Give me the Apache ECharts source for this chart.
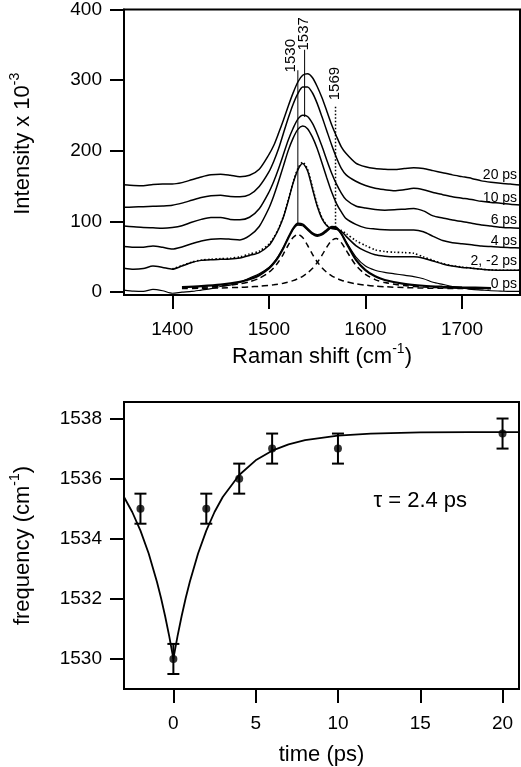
<!DOCTYPE html>
<html><head><meta charset="utf-8">
<script src="https://cdn.jsdelivr.net/npm/echarts@6/dist/echarts.min.js"></script>
<style>html,body{margin:0;padding:0;background:#fff}#c{width:521px;height:767px}</style>
</head><body><div id="c"></div>
<script>
// ---------- top panel: Raman spectra ----------
const wavenumber = [1350,1360,1370,1380,1390,1400,1410,1420,1430,1440,1450,1460,1470,1480,1490,1500,1505,1510,1515,1520,1525,1530,1535,1540,1545,1550,1555,1560,1565,1570,1575,1580,1590,1600,1610,1620,1630,1640,1650,1660,1670,1680,1690,1700,1710,1720,1730,1740,1750,1760];
const spec20ps = [152,151,150.5,152.5,153,153,155,159,163,166,167,165.5,163.5,165.5,174,194.7,207.5,224.8,243.3,263.2,281.7,297.4,306.9,309.1,303.8,291.1,275,256.1,237,220.6,205.6,196.2,182.7,177.4,174.9,174,173.5,175,176,175,172,169,166,163.5,161,157.5,155.5,154,153,151.5];
const spec10ps = [120,120.5,121,121.5,122,123,126,130,134,136.5,137,135.5,135,138,149.6,170.2,185,202.8,224.5,246.1,265.7,281,290.2,290.3,282.2,267.2,248.1,228.2,208.3,190.2,175.2,166,157,151,147,145,143.5,145,147,145,141,138,135,133,131,128.5,127,126,124.5,123.5];
const spec6ps = [93.5,92.5,91.5,91,90.5,91.5,94,99,103,105.5,105.5,103,102.5,106,118,141.4,156.6,174.7,194.8,215,231.6,244.8,250.4,248.6,239.1,224.3,206.4,186.7,168.3,152.8,140.2,130.8,122,119,117,116,116.5,117.5,118.5,115,108,105,102,100,97.5,95,93.5,92,91,90.5];
const spec4ps = [64.5,63.5,63.5,65.5,63.5,61,64,68.5,72.5,75,75.7,75,74,80,93,118.8,136.1,156.5,178.4,200.3,217.7,230.4,235,231.4,219.7,203.3,182.9,161.5,141.6,125.3,113.5,104,96,91,89.5,88.5,88,88,88,85.5,79,73,70,68.5,67,65.5,64.5,63.5,63,62.5];
const spec2ps = [34,32.5,33.5,37,35,32.5,37,42,45,46,46.5,47,48.5,52,56,66,76,89,106,129,154,173,182,172,147,122,104,94,90,89,86,79,66,58,53,51,50,50,50,48,44,40,37,35,34,32.5,31.5,31,31,31];
const specMinus2ps = [null,null,null,null,null,33,37.5,42.5,45.5,46.5,47.5,48,50,54,58,68,77,90,107,130,155,175,184,174,149,124,105,95,91,90,87.5,83,73,66,60,57.5,56.5,56,55,50,45,40.5,37.5,35.5,34,32.5,31.5,31,31,31];
const spec0ps = [3,1.5,1,4,2,-1.5,0,1,3,5,8,10,14,20,26,35,42,51,63,77,89,95,94,88,82,79,81,86,91,90,82,71,50,37,31,28,26,24,22,19,14,11,8,6,4,3,2,1.5,1,1];

const fitWavenumber = [1410,1430,1450,1470,1480,1490,1500,1505,1510,1515,1520,1525,1530,1535,1540,1545,1550,1555,1560,1565,1570,1575,1580,1590,1600,1610,1620,1640,1660,1680,1700,1730];
const fitSum0ps = [7.2,8.5,10.6,14.6,18.3,23.9,33.6,40.8,50.4,62.6,76.7,89.7,97.0,95.9,89.6,83.4,80.8,82.7,87.9,92.4,91.4,83.0,70.1,46.0,31.1,22.4,17.3,11.8,9.1,7.7,6.7,5.9];
const band1530 = [6.1,7.0,8.6,11.8,14.8,19.6,28.0,34.4,43.0,53.9,66.4,77.4,82.0,77.4,66.4,53.9,43.0,34.4,28.0,23.2,19.6,16.9,14.8,11.8,9.9,8.6,7.7,6.5,5.8,5.4,5.1,4.8];
const band1569 = [5.1,5.5,6.0,6.8,7.5,8.3,9.6,10.4,11.4,12.7,14.3,16.3,19.0,22.5,27.2,33.5,41.8,52.3,63.9,73.2,75.8,70.1,59.3,38.2,25.2,17.8,13.6,9.3,7.3,6.3,5.6,5.1];

const markPositions = [1530, 1537, 1569];
const markSpans = [[97, 314], [248, 343], [92, 265]];
const markTexts = ['1530', '1537', '1569'];
const traceTexts = ['20 ps', '10 ps', '6 ps', '4 ps', '2, -2 ps', '0 ps'];

const topXTicks = [1400, 1500, 1600, 1700];
const topYTicks = [0, 100, 200, 300, 400];

// ---------- bottom panel: frequency vs time ----------
const delayTime = [-2, 0, 2, 4, 6, 10, 20];
const peakFreq = [1535, 1530, 1535, 1536, 1537, 1537, 1537.5];
const freqErr = [0.5, 0.5, 0.5, 0.5, 0.5, 0.5, 0.5];
const fitTime = [-3,-2.5,-2,-1.5,-1,-0.75,-0.5,-0.25,0,0.25,0.5,0.75,1,1.5,2,2.5,3,4,5,6,7,8,10,12,15,18,21];
const fitFreq = [1535.39,1534.89,1534.27,1533.51,1532.57,1532.03,1531.42,1530.75,1530.0,1530.75,1531.42,1532.03,1532.57,1533.51,1534.27,1534.89,1535.39,1536.12,1536.61,1536.93,1537.14,1537.28,1537.43,1537.50,1537.54,1537.55,1537.55];
const tauText = 'τ = 2.4 ps';

const botXTicks = [0, 5, 10, 15, 20];
const botYTicks = [1530, 1532, 1534, 1536, 1538];

// ---------- chart ----------
const FONT = "'Liberation Sans', Arial, Helvetica, sans-serif";
const chart = echarts.init(document.getElementById('c'), null, {renderer: 'canvas'});
const pair = (xs, ys) => xs.map((x, i) => [x, ys[i]]);

function axisCommon(ticks, margin) {
  return {
    type: 'value',
    axisLine: {show: true, onZero: false, lineStyle: {color: '#000', width: 2}},
    axisTick: {show: true, inside: false, length: 14, customValues: ticks, lineStyle: {color: '#000', width: 2}},
    axisLabel: {customValues: ticks, color: '#000', fontSize: 19, fontFamily: FONT, margin: margin,
      formatter: function (v) { return String(v); }},
    splitLine: {show: false}
  };
}
const supRich = {sup: {fontSize: 14, lineHeight: 14, verticalAlign: 'top', fontFamily: FONT, color: '#000'}};
function nameStyle(extra) {
  return Object.assign({color: '#000', fontSize: 22, fontFamily: FONT, lineHeight: 30, rich: supRich}, extra || {});
}

const spectrumLine = (data, width, type) => ({
  type: 'line', xAxisIndex: 0, yAxisIndex: 0, data: data, showSymbol: false, symbol: 'none',
  smooth: 0.25, lineStyle: {color: '#000', width: width, type: type || 'solid'}, z: 3
});

const series = [];
[spec20ps, spec10ps, spec6ps, spec4ps, spec2ps].forEach(arr => series.push(spectrumLine(pair(wavenumber, arr), 1.5)));
series.push(spectrumLine(pair(wavenumber, specMinus2ps), 1.6, [1.5, 2.2]));
series.push(spectrumLine(pair(wavenumber, spec0ps), 1.2));
series.push(spectrumLine(pair(fitWavenumber, fitSum0ps), 2.2));
series.push(spectrumLine(pair(fitWavenumber, band1530), 1.5, [6, 4]));
series.push(spectrumLine(pair(fitWavenumber, band1569), 1.5, [6, 4]));
markPositions.forEach((w, i) => {
  series.push({
    type: 'line', xAxisIndex: 0, yAxisIndex: 0, showSymbol: false, symbol: 'none',
    data: [[w, markSpans[i][0]], [w, markSpans[i][1]]],
    lineStyle: {color: '#000', width: i === 2 ? 1.5 : 1, type: i === 2 ? [1.5, 2] : 'solid'}, z: 4
  });
});

// bottom
series.push({
  type: 'line', xAxisIndex: 1, yAxisIndex: 1, data: pair(fitTime, fitFreq), showSymbol: false, symbol: 'none',
  lineStyle: {color: '#000', width: 1.8}, z: 3
});
series.push({
  type: 'custom', xAxisIndex: 1, yAxisIndex: 1,
  data: delayTime.map((t, i) => [t, peakFreq[i] - freqErr[i], peakFreq[i] + freqErr[i]]),
  encode: {x: 0, y: [1, 2]},
  renderItem: function (params, api) {
    const lo = api.coord([api.value(0), api.value(1)]);
    const hi = api.coord([api.value(0), api.value(2)]);
    const hw = 6;
    const st = {stroke: '#000', lineWidth: 2};
    return {type: 'group', children: [
      {type: 'line', shape: {x1: lo[0], y1: lo[1], x2: hi[0], y2: hi[1]}, style: st},
      {type: 'line', shape: {x1: lo[0] - hw, y1: lo[1], x2: lo[0] + hw, y2: lo[1]}, style: st},
      {type: 'line', shape: {x1: hi[0] - hw, y1: hi[1], x2: hi[0] + hw, y2: hi[1]}, style: st}
    ]};
  }, z: 4
});
series.push({
  type: 'scatter', xAxisIndex: 1, yAxisIndex: 1, data: pair(delayTime, peakFreq),
  symbol: 'circle', symbolSize: 8, itemStyle: {color: '#000'}, z: 5
});

const option = {
  animation: false,
  backgroundColor: '#fff',
  grid: [
    {left: 122, top: 9, width: 398, height: 286, show: true, borderColor: '#000', borderWidth: 2, backgroundColor: 'transparent'},
    {left: 122, top: 402, width: 397, height: 287, show: true, borderColor: '#000', borderWidth: 2, backgroundColor: 'transparent'}
  ],
  xAxis: [
    Object.assign(axisCommon(topXTicks, 25), {gridIndex: 0, min: 1350, max: 1760,
      name: 'Raman shift (cm{sup|-1})', nameLocation: 'middle', nameGap: 47, nameTextStyle: nameStyle()}),
    Object.assign(axisCommon(botXTicks, 25), {gridIndex: 1, min: -3, max: 21,
      name: 'time (ps)', nameLocation: 'middle', nameGap: 55, nameTextStyle: nameStyle({lineHeight: 22})})
  ],
  yAxis: [
    Object.assign(axisCommon(topYTicks, 22), {gridIndex: 0, min: -4, max: 400,
      name: 'Intensity x 10{sup|-3}', nameLocation: 'middle', nameGap: 86, nameTextStyle: nameStyle({padding: [0, 0, 0, 17]})}),
    Object.assign(axisCommon(botYTicks, 22), {gridIndex: 1, min: 1529, max: 1538.55,
      name: 'frequency (cm{sup|-1})', nameLocation: 'middle', nameGap: 86, nameTextStyle: nameStyle()})
  ],
  series: series
};
chart.setOption(option);

// annotations anchored in data coordinates
const markAnchors = [[1523, 311], [1536.5, 342], [1568.5, 271.5]];
const traceAnchorY = [165.6, 133.5, 102, 72.5, 44, 11];
const traceAnchorX = 1757;
const tauAnchor = [15, 1535.27];

const graphics = [];
markTexts.forEach((t, i) => {
  const p = chart.convertToPixel({gridIndex: 0}, markAnchors[i]);
  graphics.push({type: 'text', x: p[0], y: p[1], rotation: Math.PI / 2, z: 10,
    style: {text: t, fill: '#000', fontSize: 15, fontFamily: FONT, align: 'left', verticalAlign: 'middle'}});
});
traceTexts.forEach((t, i) => {
  const p = chart.convertToPixel({gridIndex: 0}, [traceAnchorX, traceAnchorY[i]]);
  graphics.push({type: 'text', x: p[0], y: p[1], z: 10,
    style: {text: t, fill: '#000', fontSize: 14, fontFamily: FONT, align: 'right', verticalAlign: 'middle'}});
});
const tp = chart.convertToPixel({gridIndex: 1}, tauAnchor);
graphics.push({type: 'text', x: tp[0], y: tp[1], z: 10,
  style: {text: tauText, fill: '#000', fontSize: 22, fontFamily: FONT, align: 'center', verticalAlign: 'middle'}});
chart.setOption({graphic: graphics});
</script>
</body></html>
